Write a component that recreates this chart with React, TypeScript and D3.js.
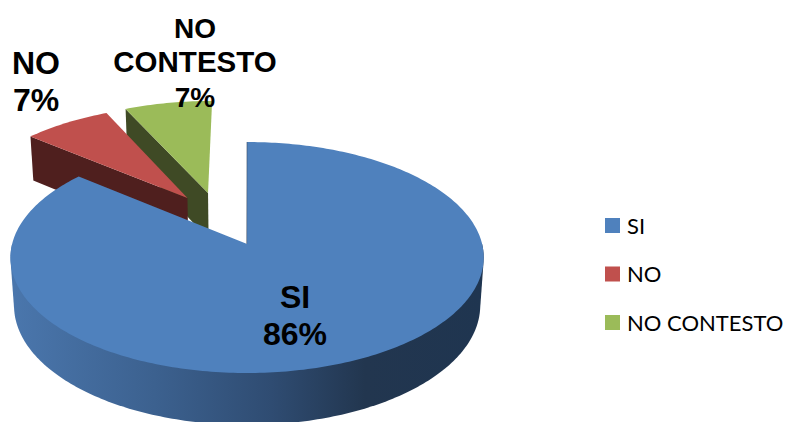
import React from "react";
import * as d3 from "d3";

// Survey answers and their shares
const categories = ["SI", "NO", "NO CONTESTO"];
const percentages = [86, 7, 7];
const faceColors = ["#4f81bd", "#c0504d", "#9bbb59"];
const edgeColors = ["#1f3550", "#4f1f1e", "#3f4a25"];

const WIDTH = 786;
const HEIGHT = 422;

// Camera model for the tilted disc: unit disc coordinates go through a
// projective divide, so the near rim draws larger than the far rim.
const view = { cx: 249, cy: 244, rx: 235, ry: 113.9, tilt: 0.117, depth: 48.6, shrink: 0.015 };

// How far each slice is pulled out of the pie, in disc units
const explode: [number, number][] = [
  [-0.008, 0],
  [-0.275, -0.424],
  [-0.184, -0.4725],
];

function project(u: number, v: number, z: number): [number, number] {
  const w = 1 - view.tilt * v + view.shrink * z;
  return [view.cx + (view.rx * u) / w, view.cy + (view.ry * v + view.depth * z) / w];
}

const slices = d3
  .pie<number>()
  .sort(null)
  .startAngle(0)
  .endAngle(2 * Math.PI)(percentages);

const outline = d3.line<[number, number]>();

function rimPoint(i: number, angle: number, z: number): [number, number] {
  const [ou, ov] = explode[i];
  return project(ou + Math.sin(angle), ov - Math.cos(angle), z);
}

function rim(i: number, z: number, a0: number, a1: number): [number, number][] {
  const steps = Math.max(8, Math.ceil(Math.abs(a1 - a0) * 60));
  return d3.range(steps + 1).map((s) => rimPoint(i, a0 + ((a1 - a0) * s) / steps, z));
}

function apex(i: number, z: number): [number, number] {
  return project(explode[i][0], explode[i][1], z);
}

function facePath(i: number): string {
  const s = slices[i];
  return outline([apex(i, 0), ...rim(i, 0, s.startAngle, s.endAngle)])! + "Z";
}

// Visible rim of the large slice: the hull of the near half of both discs,
// which also fills the straight silhouette between top and bottom.
function nearWallPath(i: number): string {
  const a0 = Math.PI / 2;
  const a1 = (3 * Math.PI) / 2;
  const hull = d3.polygonHull([...rim(i, 0, a0, a1), ...rim(i, 1, a0, a1)])!;
  return outline(hull)! + "Z";
}

// Cut face running from the slice's apex out to the angle given
function cutWallPath(i: number, angle: number): string {
  return outline([apex(i, 0), rimPoint(i, angle, 0), rimPoint(i, angle, 1), apex(i, 1)])! + "Z";
}

const labelFont = "'Liberation Sans', Arial, sans-serif";

const sliceLabels = [
  { lines: ["SI", "86%"], sizes: [32, 32], x: 295, y: 308, step: 37 },
  { lines: ["NO", "7%"], sizes: [32, 32], x: 36, y: 74, step: 37 },
  { lines: ["NO", "CONTESTO", "7%"], sizes: [28, 29.5, 28], x: 195, y: 37.5, step: 34.5 },
];

const legendY = d3.scalePoint<string>().domain(categories).range([225.5, 322.5]);

export default function App() {
  return (
    <svg
      width={WIDTH}
      height={HEIGHT}
      viewBox={`0 0 ${WIDTH} ${HEIGHT}`}
      style={{ position: "absolute", left: 0, top: 0, display: "block", background: "#fff" }}
    >
      <defs>
        <linearGradient id="blueWall" gradientUnits="userSpaceOnUse" x1={14} x2={482} y1={0} y2={0}>
          <stop offset="0" stopColor="#4a76ac" />
          <stop offset="0.3" stopColor="#3c618f" />
          <stop offset="0.55" stopColor="#2f4c72" />
          <stop offset="0.75" stopColor="#22364f" />
          <stop offset="1" stopColor="#1f3550" />
        </linearGradient>
      </defs>

      {/* Pulled-out slices sit behind the large slice */}
      <path d={cutWallPath(2, slices[2].startAngle)} fill={edgeColors[2]} />
      <path d={facePath(2)} fill={faceColors[2]} />
      <path d={cutWallPath(1, slices[1].startAngle)} fill={edgeColors[1]} />
      <path d={facePath(1)} fill={faceColors[1]} />

      <path d={nearWallPath(0)} fill="url(#blueWall)" />
      <path d={cutWallPath(0, slices[0].startAngle)} fill={edgeColors[0]} stroke={edgeColors[0]} strokeWidth={0.8} />
      <path d={facePath(0)} fill={faceColors[0]} />

      {sliceLabels.map((l, i) => (
        <text key={i} textAnchor="middle" fontFamily={labelFont} fontWeight={700} fill="#000">
          {l.lines.map((t, j) => (
            <tspan key={j} x={l.x} y={l.y + j * l.step} fontSize={l.sizes[j]}>
              {t}
            </tspan>
          ))}
        </text>
      ))}

      {categories.map((c, i) => (
        <g key={c}>
          <rect x={605} y={legendY(c)! - 7.5} width={15} height={15} fill={faceColors[i]} />
          <text x={627} y={legendY(c)! + 8} fontFamily="Lato, sans-serif" fontSize={22} fill="#000">
            {c}
          </text>
        </g>
      ))}
    </svg>
  );
}
